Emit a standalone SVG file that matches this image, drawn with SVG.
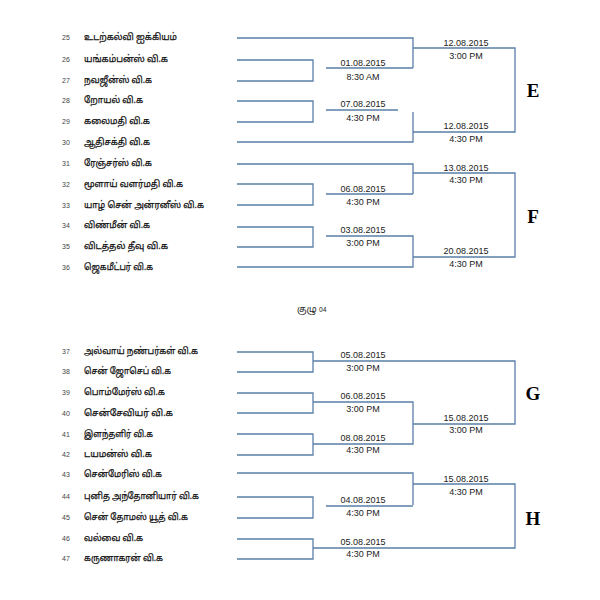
<svg xmlns="http://www.w3.org/2000/svg" width="600" height="600" viewBox="0 0 600 600">
<style>
.num{font-family:"Liberation Sans",Arial,sans-serif;font-size:7px;fill:#444;text-anchor:middle}
.name{font-family:"Noto Sans","Noto Sans Tamil","Liberation Sans",sans-serif;font-size:9.5px;fill:#111;stroke:#111;stroke-width:0.25}
.dt{font-family:"Liberation Sans",Arial,sans-serif;font-size:9px;fill:#222;text-anchor:middle}
.grp{font-family:"Liberation Serif","Times New Roman",serif;font-size:19px;font-weight:bold;fill:#000;text-anchor:middle}
.hdr{font-family:"Noto Sans","Noto Sans Tamil",sans-serif;font-size:9px;fill:#222}
.ln{fill:none;stroke:#5a7fa8;stroke-width:1.3}
</style>
<rect width="600" height="600" fill="#fff"/>
<g id="teams">
<g id="t25"><text class="num" x="66" y="40">25</text><text class="name" x="84" y="40" textLength="93" lengthAdjust="spacingAndGlyphs">உடற்கல்வி ஐக்கியம்</text></g>
<g id="t26"><text class="num" x="66" y="62">26</text><text class="name" x="84" y="62" textLength="84" lengthAdjust="spacingAndGlyphs">யங்கம்பன்ஸ் வி.க</text></g>
<g id="t27"><text class="num" x="66" y="83">27</text><text class="name" x="84" y="83" textLength="68" lengthAdjust="spacingAndGlyphs">நவஜீன்ஸ் வி.க</text></g>
<g id="t28"><text class="num" x="66" y="103">28</text><text class="name" x="84" y="103" textLength="59" lengthAdjust="spacingAndGlyphs">றோயல் வி.க</text></g>
<g id="t29"><text class="num" x="66" y="124">29</text><text class="name" x="84" y="124" textLength="66" lengthAdjust="spacingAndGlyphs">கலைமதி வி.க</text></g>
<g id="t30"><text class="num" x="66" y="145">30</text><text class="name" x="84" y="145" textLength="66" lengthAdjust="spacingAndGlyphs">ஆதிசக்தி வி.க</text></g>
<g id="t31"><text class="num" x="66" y="166">31</text><text class="name" x="84" y="166" textLength="68" lengthAdjust="spacingAndGlyphs">ரேஞ்சர்ஸ் வி.க</text></g>
<g id="t32"><text class="num" x="66" y="187">32</text><text class="name" x="84" y="187" textLength="99" lengthAdjust="spacingAndGlyphs">மூளாய் வளர்மதி வி.க</text></g>
<g id="t33"><text class="num" x="66" y="208">33</text><text class="name" x="84" y="208" textLength="120" lengthAdjust="spacingAndGlyphs">யாழ் சென் அன்ரனீஸ் வி.க</text></g>
<g id="t34"><text class="num" x="66" y="228">34</text><text class="name" x="84" y="228" textLength="66" lengthAdjust="spacingAndGlyphs">விண்மீன் வி.க</text></g>
<g id="t35"><text class="num" x="66" y="249">35</text><text class="name" x="84" y="249" textLength="84" lengthAdjust="spacingAndGlyphs">விடத்தல் தீவு வி.க</text></g>
<g id="t36"><text class="num" x="66" y="270">36</text><text class="name" x="84" y="270" textLength="69" lengthAdjust="spacingAndGlyphs">ஜெகமீட்பர் வி.க</text></g>
<g id="t37"><text class="num" x="66" y="354">37</text><text class="name" x="84" y="354" textLength="114" lengthAdjust="spacingAndGlyphs">அல்வாய் நண்பர்கள் வி.க</text></g>
<g id="t38"><text class="num" x="66" y="374">38</text><text class="name" x="84" y="374" textLength="87" lengthAdjust="spacingAndGlyphs">சென் ஜோசெப் வி.க</text></g>
<g id="t39"><text class="num" x="66" y="395">39</text><text class="name" x="84" y="395" textLength="81" lengthAdjust="spacingAndGlyphs">பொம்மேர்ஸ் வி.க</text></g>
<g id="t40"><text class="num" x="66" y="416">40</text><text class="name" x="84" y="416" textLength="89" lengthAdjust="spacingAndGlyphs">சென்சேவியர் வி.க</text></g>
<g id="t41"><text class="num" x="66" y="437">41</text><text class="name" x="84" y="437" textLength="69" lengthAdjust="spacingAndGlyphs">இளந்தளிர் வி.க</text></g>
<g id="t42"><text class="num" x="66" y="457">42</text><text class="name" x="84" y="457" textLength="68" lengthAdjust="spacingAndGlyphs">டயமன்ஸ் வி.க</text></g>
<g id="t43"><text class="num" x="66" y="477">43</text><text class="name" x="84" y="477" textLength="78" lengthAdjust="spacingAndGlyphs">சென்மேரிஸ் வி.க</text></g>
<g id="t44"><text class="num" x="66" y="499">44</text><text class="name" x="84" y="499" textLength="115" lengthAdjust="spacingAndGlyphs">புனித அந்தோனியார் வி.க</text></g>
<g id="t45"><text class="num" x="66" y="520">45</text><text class="name" x="84" y="520" textLength="104" lengthAdjust="spacingAndGlyphs">சென் தோமஸ் யூத் வி.க</text></g>
<g id="t46"><text class="num" x="66" y="541">46</text><text class="name" x="84" y="541" textLength="59" lengthAdjust="spacingAndGlyphs">வல்வை வி.க</text></g>
<g id="t47"><text class="num" x="66" y="561">47</text><text class="name" x="84" y="561" textLength="79" lengthAdjust="spacingAndGlyphs">கருணாகரன் வி.க</text></g>
</g>
<text class="hdr" x="297" y="312">குழு <tspan font-size="6.5px">04</tspan></text>
<g id="connectors">
<path class="ln" d="M237 38H413V68M237 60H313V81H237M326 68H413M413 48H515V132H413M237 101H313V122H237M326 110H398M413 112V142H237"/>
<path class="ln" d="M237 164H413V194M326 194H413M237 184H313V205H237M413 173H515V257H413M237 227H313V247H237M326 236H413V267H237"/>
<path class="ln" d="M237 352H313V372H237M313 361H515V424H413M237 393H313V413H237M313 402H413V444H313M237 434H313V455H237"/>
<path class="ln" d="M237 473H413V505M326 506H413M237 497H313V518H237M413 484H515V548H313M237 539H313V559H237"/>
</g>
<g id="dates">
<text class="dt" x="363" y="66">01.08.2015</text><text class="dt" x="363" y="80">8:30 AM</text>
<text class="dt" x="363" y="107">07.08.2015</text><text class="dt" x="363" y="121">4:30 PM</text>
<text class="dt" x="466" y="46">12.08.2015</text><text class="dt" x="466" y="59">3:00 PM</text>
<text class="dt" x="466" y="129">12.08.2015</text><text class="dt" x="466" y="142">4:30 PM</text>
<text class="dt" x="466" y="171">13.08.2015</text><text class="dt" x="466" y="183">4:30 PM</text>
<text class="dt" x="363" y="192">06.08.2015</text><text class="dt" x="363" y="205">4:30 PM</text>
<text class="dt" x="363" y="233">03.08.2015</text><text class="dt" x="363" y="246">3:00 PM</text>
<text class="dt" x="466" y="254">20.08.2015</text><text class="dt" x="466" y="267">4:30 PM</text>
<text class="dt" x="363" y="358">05.08.2015</text><text class="dt" x="363" y="371">3:00 PM</text>
<text class="dt" x="363" y="399">06.08.2015</text><text class="dt" x="363" y="412">3:00 PM</text>
<text class="dt" x="363" y="441">08.08.2015</text><text class="dt" x="363" y="453">4:30 PM</text>
<text class="dt" x="466" y="421">15.08.2015</text><text class="dt" x="466" y="433">3:00 PM</text>
<text class="dt" x="466" y="482">15.08.2015</text><text class="dt" x="466" y="495">4:30 PM</text>
<text class="dt" x="363" y="503">04.08.2015</text><text class="dt" x="363" y="516">4:30 PM</text>
<text class="dt" x="363" y="545">05.08.2015</text><text class="dt" x="363" y="557">4:30 PM</text>
</g>
<g id="groups">
<text class="grp" x="533" y="97">E</text>
<text class="grp" x="533" y="223">F</text>
<text class="grp" x="533" y="400">G</text>
<text class="grp" x="533" y="525">H</text>
</g>
</svg>
